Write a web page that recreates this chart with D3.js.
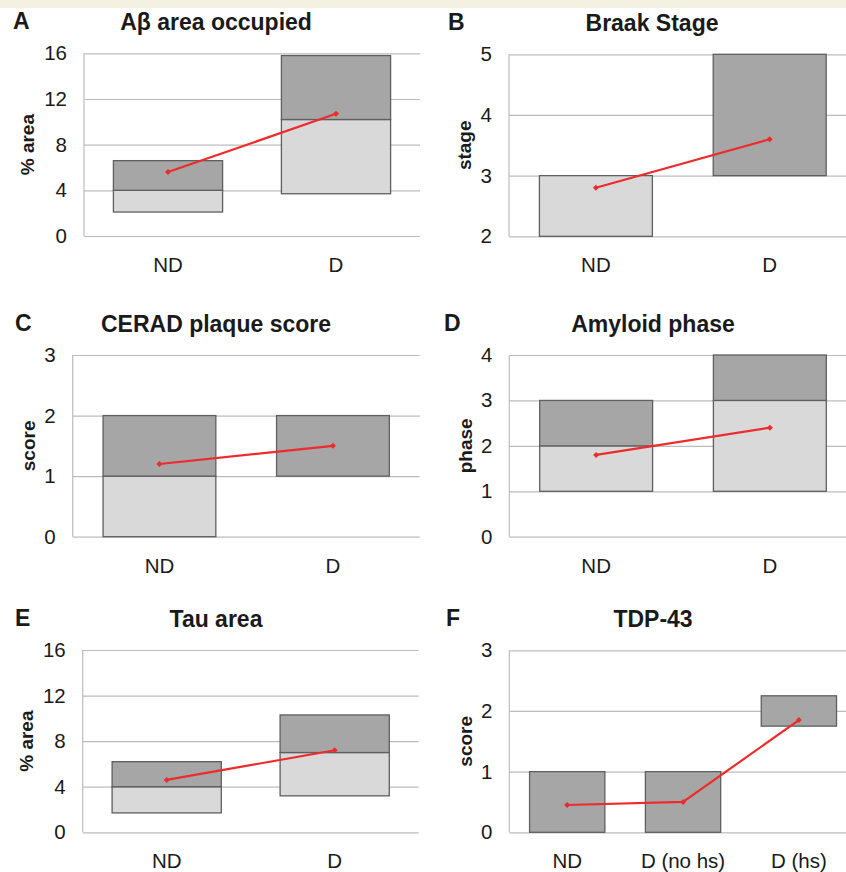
<!DOCTYPE html>
<html>
<head>
<meta charset="utf-8">
<script src="https://cdn.jsdelivr.net/npm/d3@7"></script>
<style>
  body { margin: 0; background: #fff; }
  svg text { font-family: "Liberation Sans", Arial, sans-serif; fill: #1a1a1a; }
</style>
</head>
<body>
<div id="container"></div>
<script>
// panel texts
var letters = ["A", "B", "C", "D", "E", "F"];
var titles = ["A\u03b2 area occupied", "Braak Stage", "CERAD plaque score", "Amyloid phase", "Tau area", "TDP-43"];
var yLabels = ["% area", "stage", "score", "phase", "% area", "score"];

// categories per panel
var catsA = ["ND", "D"];
var catsB = ["ND", "D"];
var catsC = ["ND", "D"];
var catsD = ["ND", "D"];
var catsE = ["ND", "D"];
var catsF = ["ND", "D (no hs)", "D (hs)"];

// y ticks per panel
var ticksA = [0, 4, 8, 12, 16];
var ticksB = [2, 3, 4, 5];
var ticksC = [0, 1, 2, 3];
var ticksD = [0, 1, 2, 3, 4];
var ticksE = [0, 4, 8, 12, 16];
var ticksF = [0, 1, 2, 3];

// box values: lower quartile, median, upper quartile, mean
var lowA = [2.1, 3.7],  midA = [4.0, 10.2], highA = [6.6, 15.8], meanA = [5.6, 10.7];
var lowB = [2, 3],      midB = [3, 3],      highB = [3, 5],      meanB = [2.8, 3.6];
var lowC = [0, 1],      midC = [1, 1],      highC = [2, 2],      meanC = [1.2, 1.5];
var lowD = [1, 1],      midD = [2, 3],      highD = [3, 4],      meanD = [1.8, 2.4];
var lowE = [1.7, 3.2],  midE = [4.0, 7.0],  highE = [6.2, 10.3], meanE = [4.6, 7.2];
var lowF = [0, 0, 1.75], midF = [0, 0, 1.75], highF = [1, 1, 2.25], meanF = [0.45, 0.5, 1.85];

var panels = [
  { cats: catsA, ticks: ticksA, low: lowA, mid: midA, high: highA, mean: meanA },
  { cats: catsB, ticks: ticksB, low: lowB, mid: midB, high: highB, mean: meanB },
  { cats: catsC, ticks: ticksC, low: lowC, mid: midC, high: highC, mean: meanC },
  { cats: catsD, ticks: ticksD, low: lowD, mid: midD, high: highD, mean: meanD },
  { cats: catsE, ticks: ticksE, low: lowE, mid: midE, high: highE, mean: meanE },
  { cats: catsF, ticks: ticksF, low: lowF, mid: midF, high: highF, mean: meanF }
];

// plot frames (pixels)
var frames = [
  { x: 84,    y: 53.3,  w: 336,   h: 182.7, labX: 27,  letX: 13,  titX: 216 },
  { x: 509,   y: 54.3,  w: 347.6, h: 182,   labX: 464, letX: 448, titX: 652 },
  { x: 72.7,  y: 355,   w: 347,   h: 181.7, labX: 28,  letX: 15,  titX: 216 },
  { x: 509.3, y: 355,   w: 347.4, h: 181.7, labX: 465, letX: 444, titX: 653 },
  { x: 82.7,  y: 650,   w: 336,   h: 182.3, labX: 26,  letX: 15,  titX: 216 },
  { x: 509.3, y: 650.3, w: 347.5, h: 182,   labX: 465, letX: 446, titX: 653 }
];

var lightFill = "#d9d9d9", darkFill = "#a6a6a6", boxStroke = "#5f5f5f";
var gridColor = "#bcbcbc", red = "#ee2b2b";

var svg = d3.select("#container").append("svg")
  .attr("width", 846).attr("height", 872);

svg.append("rect")
  .attr("x", 0).attr("y", 0).attr("width", 846).attr("height", 8)
  .attr("fill", "#f4f0e2");

panels.forEach(function(p, k) {
  var f = frames[k];
  var g = svg.append("g").attr("transform", "translate(" + f.x + "," + f.y + ")");

  var x = d3.scaleBand().domain(p.cats).range([0, f.w])
    .paddingInner(0.35).paddingOuter(0.175);
  var y = d3.scaleLinear().domain(d3.extent(p.ticks)).range([f.h, 0]);

  // gridlines + tick labels
  var yAxis = g.append("g").call(d3.axisLeft(y).tickValues(p.ticks).tickSize(-f.w).tickPadding(17).tickFormat(d3.format("d")));
  yAxis.select(".domain").remove();
  yAxis.selectAll(".tick line").attr("stroke", gridColor).attr("stroke-width", 1.2);
  yAxis.selectAll(".tick text").attr("font-size", 20.5).attr("fill", "#1a1a1a")
    .style("font-family", "'Liberation Sans', Arial, sans-serif");

  g.append("line")
    .attr("x1", 0).attr("x2", 0).attr("y1", 0).attr("y2", f.h)
    .attr("stroke", gridColor).attr("stroke-width", 1.2);

  var idx = d3.range(p.cats.length);

  // lower part of box (q1 to median)
  g.selectAll("rect.lo").data(idx.filter(function(i) { return p.mid[i] > p.low[i]; }))
    .enter().append("rect").classed("lo", true)
    .attr("x", function(i) { return x(p.cats[i]); })
    .attr("width", x.bandwidth())
    .attr("y", function(i) { return y(p.mid[i]); })
    .attr("height", function(i) { return y(p.low[i]) - y(p.mid[i]); })
    .attr("fill", lightFill).attr("stroke", boxStroke).attr("stroke-width", 1.3);

  // upper part of box (median to q3)
  g.selectAll("rect.hi").data(idx.filter(function(i) { return p.high[i] > p.mid[i]; }))
    .enter().append("rect").classed("hi", true)
    .attr("x", function(i) { return x(p.cats[i]); })
    .attr("width", x.bandwidth())
    .attr("y", function(i) { return y(p.high[i]); })
    .attr("height", function(i) { return y(p.mid[i]) - y(p.high[i]); })
    .attr("fill", darkFill).attr("stroke", boxStroke).attr("stroke-width", 1.3);

  // mean line
  var line = d3.line()
    .x(function(i) { return x(p.cats[i]) + x.bandwidth() / 2; })
    .y(function(i) { return y(p.mean[i]); });
  g.append("path").datum(idx)
    .attr("d", line).attr("fill", "none")
    .attr("stroke", red).attr("stroke-width", 2.2);
  g.selectAll("path.mk").data(idx).enter().append("path").classed("mk", true)
    .attr("d", d3.symbol().type(d3.symbolSquare).size(18))
    .attr("transform", function(i) {
      return "translate(" + (x(p.cats[i]) + x.bandwidth() / 2) + "," + y(p.mean[i]) + ") rotate(45)";
    })
    .attr("fill", red);

  // category labels
  g.selectAll("text.cat").data(p.cats).enter().append("text").classed("cat", true)
    .attr("x", function(d) { return x(d) + x.bandwidth() / 2; })
    .attr("y", f.h + 36)
    .attr("text-anchor", "middle")
    .attr("font-size", 20.5)
    .text(function(d) { return d; });

  // y label
  svg.append("text")
    .attr("transform", "translate(" + (f.labX + 7) + "," + (f.y + f.h / 2) + ") rotate(-90)")
    .attr("text-anchor", "middle")
    .attr("font-size", 19).attr("font-weight", "bold")
    .text(yLabels[k]);

  // title + panel letter
  svg.append("text")
    .attr("x", f.titX).attr("y", f.y - 23)
    .attr("text-anchor", "middle")
    .attr("font-size", 23).attr("font-weight", "bold")
    .text(titles[k]);
  svg.append("text")
    .attr("x", f.letX).attr("y", f.y - 24)
    .attr("font-size", 23).attr("font-weight", "bold")
    .text(letters[k]);
});
</script>
</body>
</html>
